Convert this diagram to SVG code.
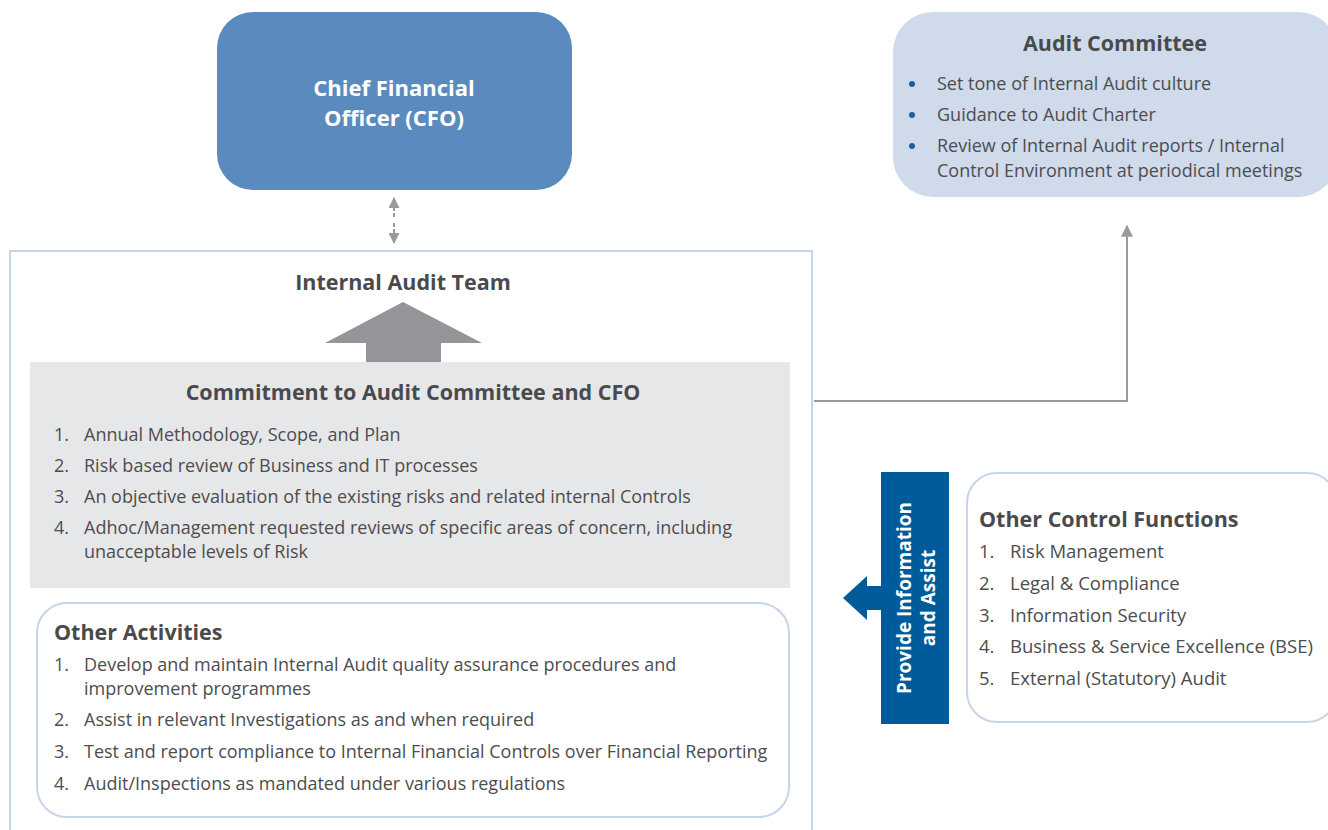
<svg xmlns="http://www.w3.org/2000/svg" width="1328" height="830" viewBox="0 0 1328 830">
<defs>
<style>
text{font-family:"Open Sans","Liberation Sans",Arial,sans-serif;fill:#4d4d4f}
.t{font-size:18px}
.r{font-size:18.5px}
.b{font-weight:bold;font-size:21.5px;fill:#4a4a4c}
.w{fill:#fff;font-weight:bold}
.frame{fill:none;stroke:#c6d5ea;stroke-width:2}
.conn{fill:none;stroke:#9a9a9c;stroke-width:2}
</style>
<marker id="ah" viewBox="0 0 10 10" refX="9" refY="5" markerWidth="13" markerHeight="11" markerUnits="userSpaceOnUse" orient="auto">
<path d="M0,0 L10,5 L0,10 z" fill="#9a9a9c"/>
</marker>
<marker id="ah2" viewBox="0 0 10 10" refX="9" refY="5" markerWidth="16" markerHeight="12" markerUnits="userSpaceOnUse" orient="auto">
<path d="M0,0 L10,5 L0,10 z" fill="#9a9a9c"/>
</marker>
</defs>

<g id="cfo">
<rect x="217" y="12" width="355" height="178" rx="36" fill="#5b8abe"/>
<text class="w" x="394" y="96" text-anchor="middle" font-size="22">Chief Financial</text>
<text class="w" x="394" y="126" text-anchor="middle" font-size="22">Officer (CFO)</text>
</g>

<g id="audit-committee">
<rect x="893" y="12" width="445" height="185" rx="40" fill="#cfdaea"/>
<text class="b" x="1115" y="51" text-anchor="middle">Audit Committee</text>
<g fill="#1f5fa0">
<circle cx="912" cy="84" r="3"/>
<circle cx="912" cy="115" r="3"/>
<circle cx="912" cy="146" r="3"/>
</g>
<text class="t" x="937" y="90">Set tone of Internal Audit culture</text>
<text class="t" x="937" y="121">Guidance to Audit Charter</text>
<text class="t" x="937" y="152">Review of Internal Audit reports / Internal</text>
<text class="t" x="937" y="177">Control Environment at periodical meetings</text>
</g>

<g id="internal-audit-team">
<path class="frame" d="M10,832 V251 H812 V832"/>
<text class="b" x="403" y="290" text-anchor="middle">Internal Audit Team</text>
<path d="M325,343 L403,302 L482,343 L441,343 L441,363 L366,363 L366,343 z" fill="#939598"/>
</g>

<g id="commitment">
<rect x="30" y="362" width="760" height="226" fill="#e6e7e8"/>
<text class="b" x="413" y="400" text-anchor="middle">Commitment to Audit Committee and CFO</text>
<text class="t" x="54" y="441">1.</text>
<text class="t" x="84" y="441">Annual Methodology, Scope, and Plan</text>
<text class="t" x="54" y="472">2.</text>
<text class="t" x="84" y="472">Risk based review of Business and IT processes</text>
<text class="t" x="54" y="503">3.</text>
<text class="t" x="84" y="503">An objective evaluation of the existing risks and related internal Controls</text>
<text class="t" x="54" y="534">4.</text>
<text class="t" x="84" y="534">Adhoc/Management requested reviews of specific areas of concern, including</text>
<text class="t" x="84" y="558">unacceptable levels of Risk</text>
</g>

<g id="other-activities">
<rect class="frame" x="37" y="603" width="752" height="214" rx="30" fill="#fff"/>
<text class="b" x="54" y="640">Other Activities</text>
<text class="t" x="54" y="671">1.</text>
<text class="t" x="84" y="671">Develop and maintain Internal Audit quality assurance procedures and</text>
<text class="t" x="84" y="695">improvement programmes</text>
<text class="t" x="54" y="726">2.</text>
<text class="t" x="84" y="726">Assist in relevant Investigations as and when required</text>
<text class="t" x="54" y="758">3.</text>
<text class="t" x="84" y="758">Test and report compliance to Internal Financial Controls over Financial Reporting</text>
<text class="t" x="54" y="790">4.</text>
<text class="t" x="84" y="790">Audit/Inspections as mandated under various regulations</text>
</g>

<g id="provide-info">
<rect x="881" y="472" width="68" height="252" fill="#005b9a"/>
<path d="M843,598 L867,576 L867,586 L881,586 L881,610 L867,610 L867,620 z" fill="#005b9a"/>
<text class="w" font-size="19" transform="translate(911,598) rotate(-90)" text-anchor="middle">Provide Information</text>
<text class="w" font-size="19" transform="translate(935,598) rotate(-90)" text-anchor="middle">and Assist</text>
</g>

<g id="other-control-functions">
<rect class="frame" x="967" y="473" width="370" height="249" rx="30" fill="#fff"/>
<text class="b" x="979" y="527">Other Control Functions</text>
<text class="r" x="979" y="558">1.</text>
<text class="r" x="1010" y="558">Risk Management</text>
<text class="r" x="979" y="590">2.</text>
<text class="r" x="1010" y="590">Legal &amp; Compliance</text>
<text class="r" x="979" y="622">3.</text>
<text class="r" x="1010" y="622">Information Security</text>
<text class="r" x="979" y="653">4.</text>
<text class="r" x="1010" y="653">Business &amp; Service Excellence (BSE)</text>
<text class="r" x="979" y="685">5.</text>
<text class="r" x="1010" y="685">External (Statutory) Audit</text>
</g>

<g id="connectors">
<path class="conn" d="M814,401 H1127 V226" marker-end="url(#ah2)"/>
<path d="M394,217 V198" stroke="#9a9a9c" stroke-width="2" stroke-dasharray="4,2" marker-end="url(#ah)"/>
<path d="M394,223 V243" stroke="#9a9a9c" stroke-width="2" stroke-dasharray="4,2" marker-end="url(#ah)"/>
</g>
</svg>
